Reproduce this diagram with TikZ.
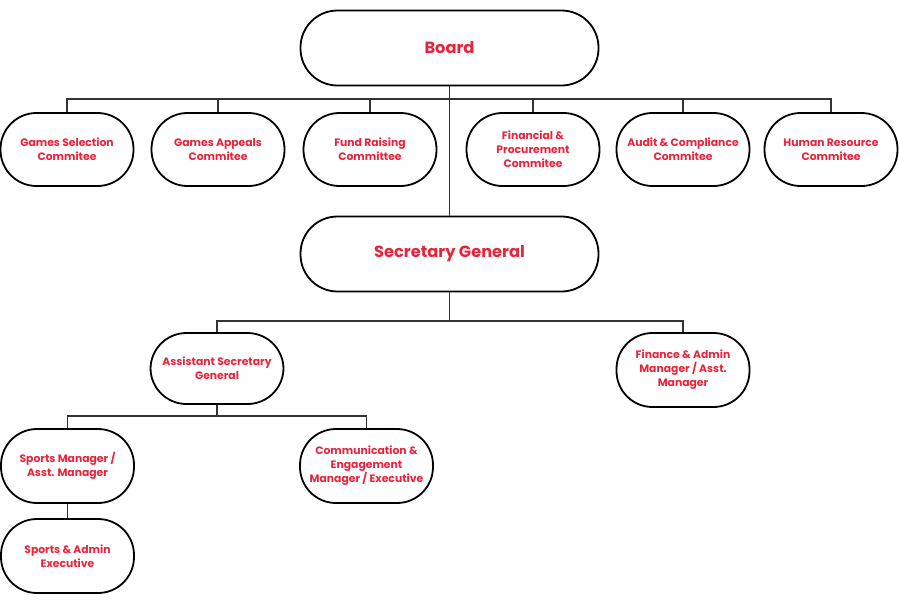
\documentclass[tikz,border=0pt]{standalone}
\usepackage{fontspec}
\setmainfont{Poppins}
\definecolor{tred}{HTML}{E8243C}
\definecolor{lgray}{HTML}{333333}
\begin{document}
\begin{tikzpicture}[x=1pt,y=-1pt,
  box/.style={draw=black,line width=1.8pt,rounded corners=36pt,minimum width=#1,align=center,
    text=tred,font=\bfseries\fontsize{10.8}{14}\selectfont,inner sep=0pt},
  box/.default=133pt,
  bigbox/.style={draw=black,line width=1.8pt,rounded corners=37pt,minimum width=298pt,minimum height=75pt,
    text=tred,font=\bfseries\fontsize{16.2}{19}\selectfont,inner sep=0pt},
  conn/.style={draw=lgray,line width=1.1pt}]
\useasboundingbox (0,0) rectangle (899,603);
\node[bigbox] (board) at (449.5,48) {Board};
\node[bigbox] (sg) at (449.5,254) {Secretary General};
\foreach \n/\x/\t in {c1/67/{Games Selection\\Commitee},c2/218/{Games Appeals\\Commitee},c3/370/{Fund Raising\\Committee},c4/533/{Financial \&\\Procurement\\Commitee},c5/683/{Audit \& Compliance\\Commitee},c6/831/{Human Resource\\Commitee}}
  \node[box,minimum height=73pt] (\n) at (\x,149.5) {\t};
\node[box,minimum height=71pt] (asg) at (217,368.5) {Assistant Secretary\\General};
\node[box,minimum height=74pt] (fam) at (683,370) {Finance \& Admin\\Manager / Asst.\\Manager};
\node[box,minimum height=74pt] (spm) at (67.5,466) {Sports Manager /\\Asst. Manager};
\node[box,minimum height=74pt] (ce) at (366.5,466) {Communication \&\\Engagement\\Manager / Executive};
\node[box,minimum height=74pt] (sae) at (67.5,556) {Sports \& Admin\\Executive};
\coordinate (b1) at (449.5,99);
\draw[conn] (board.south) -- (sg.north);
\draw[conn] (c1.north) -- (c1.north |- b1) -- (c6.north |- b1) -- (c6.north);
\foreach \n in {c2,c3,c4,c5} \draw[conn] (\n.north) -- (\n.north |- b1);
\coordinate (b2) at (449.5,321);
\draw[conn] (sg.south) -- (b2);
\draw[conn] (asg.north) -- (asg.north |- b2) -- (fam.north |- b2) -- (fam.north);
\coordinate (b3) at (217,416);
\draw[conn] (asg.south) -- (b3);
\draw[conn] (spm.north) -- (spm.north |- b3) -- (ce.north |- b3) -- (ce.north);
\draw[conn] (spm.south) -- (sae.north);
\end{tikzpicture}
\end{document}
